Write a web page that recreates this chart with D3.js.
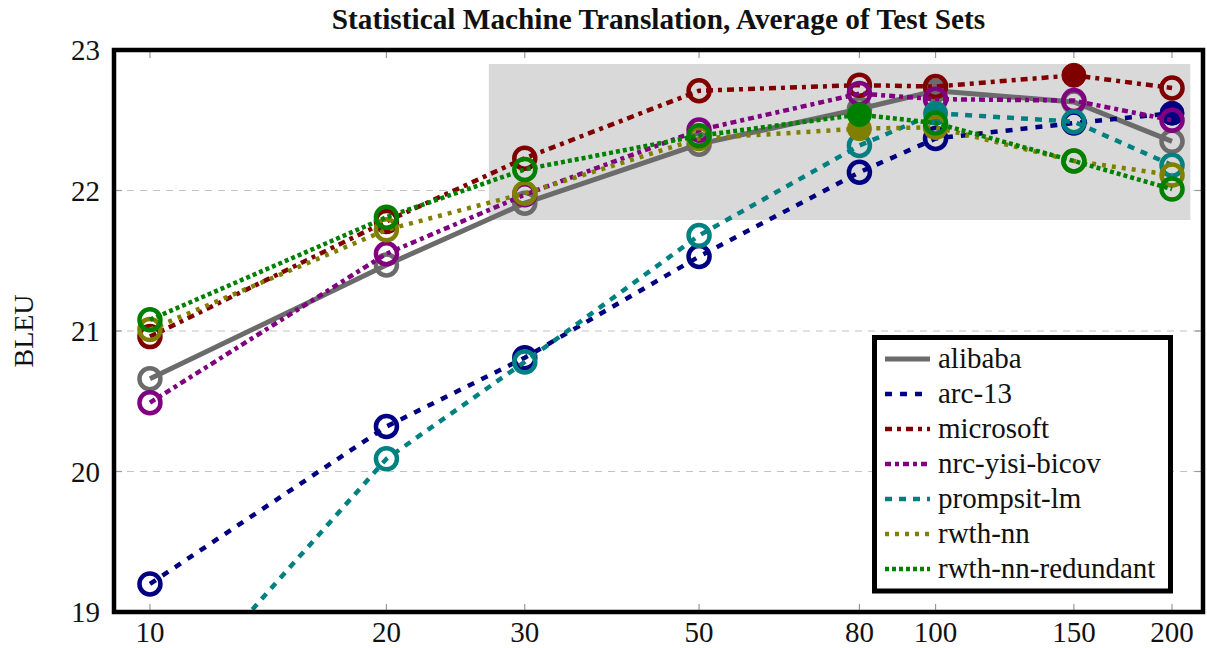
<!DOCTYPE html>
<html>
<head>
<meta charset="utf-8">
<script src="https://cdn.jsdelivr.net/npm/d3@7"></script>
<style>
  body { margin: 0; background: #fff; }
  text { font-family: "Liberation Serif", "Times New Roman", serif; fill: #111; }
</style>
</head>
<body>
<div id="chart"></div>
<script>
const budgets = [10, 20, 30, 50, 80, 100, 150, 200];
const systems = ["alibaba", "arc-13", "microsoft", "nrc-yisi-bicov", "prompsit-lm", "rwth-nn", "rwth-nn-redundant"];
const alibaba = [20.66, 21.47, 21.91, 22.33, 22.58, 22.71, 22.63, 22.35];
const arc13 = [19.20, 20.32, 20.81, 21.53, 22.13, 22.37, 22.48, 22.55];
const microsoft = [20.96, 21.78, 22.23, 22.71, 22.75, 22.74, 22.82, 22.73];
const nrc = [20.49, 21.55, 21.97, 22.43, 22.69, 22.65, 22.64, 22.50];
const prompsit = [18.20, 20.09, 20.78, 21.68, 22.32, 22.55, 22.49, 22.18];
const rwthNn = [21.01, 21.72, 21.98, 22.37, 22.44, 22.45, 22.21, 22.11];
const rwthNnRedundant = [21.08, 21.81, 22.15, 22.39, 22.54, 22.48, 22.21, 22.01];
// index of the filled marker for each system (-1: none)
const filledAt = [5, 7, 6, -1, 5, 4, 4];
const yTicks = [19, 20, 21, 22, 23];
const highlightX = [27, 211];
const highlightY = [21.79, 22.9];

const series = [alibaba, arc13, microsoft, nrc, prompsit, rwthNn, rwthNnRedundant];
const colors = ["#6b6b6b", "#000080", "#800000", "#800080", "#008080", "#808000", "#008000"];
const dashes = [null, "7,8", "7,5,4,5", "6,4,4,4", "7,7", "4,6", "4,3"];

const width = 1207, height = 648;
const plotLeft = 114, plotRight = 1203, plotTop = 50, plotBottom = 612;

const svg = d3.select("#chart").append("svg")
    .attr("width", width)
    .attr("height", height);

const xScale = d3.scaleLog().domain([9.0, 219]).range([plotLeft, plotRight]);
const yScale = d3.scaleLinear().domain([19, 23]).range([plotBottom, plotTop]);

svg.append("defs").append("clipPath").attr("id", "plot-clip")
    .append("rect")
    .attr("x", plotLeft).attr("y", plotTop)
    .attr("width", plotRight - plotLeft).attr("height", plotBottom - plotTop);

// grid
svg.append("g").selectAll("line")
    .data(yTicks.slice(1, -1))
    .enter().append("line")
    .attr("x1", plotLeft).attr("x2", plotRight)
    .attr("y1", d => yScale(d)).attr("y2", d => yScale(d))
    .attr("stroke", "#c4c4c4")
    .attr("stroke-width", 1.2)
    .attr("stroke-dasharray", "7,6");

// highlighted region
svg.append("rect")
    .attr("x", xScale(highlightX[0]))
    .attr("y", yScale(highlightY[1]))
    .attr("width", xScale(highlightX[1]) - xScale(highlightX[0]))
    .attr("height", yScale(highlightY[0]) - yScale(highlightY[1]))
    .attr("fill", "#d9d9d9");

// ticks
const tickG = svg.append("g").attr("stroke", "#999").attr("stroke-width", 1.2);
budgets.forEach(b => {
    tickG.append("line").attr("x1", xScale(b)).attr("x2", xScale(b)).attr("y1", plotTop).attr("y2", plotTop + 8);
    tickG.append("line").attr("x1", xScale(b)).attr("x2", xScale(b)).attr("y1", plotBottom).attr("y2", plotBottom - 8);
});
yTicks.forEach(v => {
    tickG.append("line").attr("x1", plotLeft).attr("x2", plotLeft + 8).attr("y1", yScale(v)).attr("y2", yScale(v));
    tickG.append("line").attr("x1", plotRight).attr("x2", plotRight - 8).attr("y1", yScale(v)).attr("y2", yScale(v));
});

// series
const line = d3.line()
    .x((d, i) => xScale(budgets[i]))
    .y(d => yScale(d));

const plot = svg.append("g").attr("clip-path", "url(#plot-clip)");
series.forEach((vals, s) => {
    plot.append("path")
        .datum(vals)
        .attr("d", line)
        .attr("fill", "none")
        .attr("stroke", colors[s])
        .attr("stroke-width", s === 0 ? 5 : 4.5)
        .attr("stroke-dasharray", dashes[s]);
    plot.selectAll(null)
        .data(vals)
        .enter().append("circle")
        .attr("cx", (d, i) => xScale(budgets[i]))
        .attr("cy", d => yScale(d))
        .attr("r", (d, i) => i === filledAt[s] ? 12 : 10.5)
        .attr("fill", (d, i) => i === filledAt[s] ? colors[s] : "none")
        .attr("stroke", colors[s])
        .attr("stroke-width", (d, i) => i === filledAt[s] ? 1 : 4.5);
});

// frame
svg.append("rect")
    .attr("x", plotLeft).attr("y", plotTop)
    .attr("width", plotRight - plotLeft).attr("height", plotBottom - plotTop)
    .attr("fill", "none")
    .attr("stroke", "#000")
    .attr("stroke-width", 4.5);

// tick labels
svg.append("g").selectAll("text")
    .data(budgets)
    .enter().append("text")
    .attr("x", d => xScale(d))
    .attr("y", 642)
    .attr("text-anchor", "middle")
    .attr("font-size", 29)
    .text(d => d);

svg.append("g").selectAll("text")
    .data(yTicks)
    .enter().append("text")
    .attr("x", 100)
    .attr("y", d => yScale(d) + 10)
    .attr("text-anchor", "end")
    .attr("font-size", 29)
    .text(d => d);

svg.append("text")
    .attr("transform", "translate(33," + ((plotTop + plotBottom) / 2) + ") rotate(-90)")
    .attr("text-anchor", "middle")
    .attr("font-size", 28)
    .text("BLEU");

svg.append("text")
    .attr("x", (plotLeft + plotRight) / 2)
    .attr("y", 29)
    .attr("text-anchor", "middle")
    .attr("font-size", 29.3)
    .attr("font-weight", "bold")
    .text("Statistical Machine Translation, Average of Test Sets");

// legend
const legend = svg.append("g");
legend.append("rect")
    .attr("x", 874.5).attr("y", 337.5)
    .attr("width", 296).attr("height", 253.5)
    .attr("fill", "#fff")
    .attr("stroke", "#000")
    .attr("stroke-width", 5);

systems.forEach((name, s) => {
    const cy = 359 + s * 35;
    legend.append("line")
        .attr("x1", 885).attr("x2", 930)
        .attr("y1", cy).attr("y2", cy)
        .attr("stroke", colors[s])
        .attr("stroke-width", s === 0 ? 5 : 4.5)
        .attr("stroke-dasharray", dashes[s]);
    legend.append("text")
        .attr("x", 938)
        .attr("y", cy + 9)
        .attr("font-size", 29)
        .text(name);
});
</script>
</body>
</html>
